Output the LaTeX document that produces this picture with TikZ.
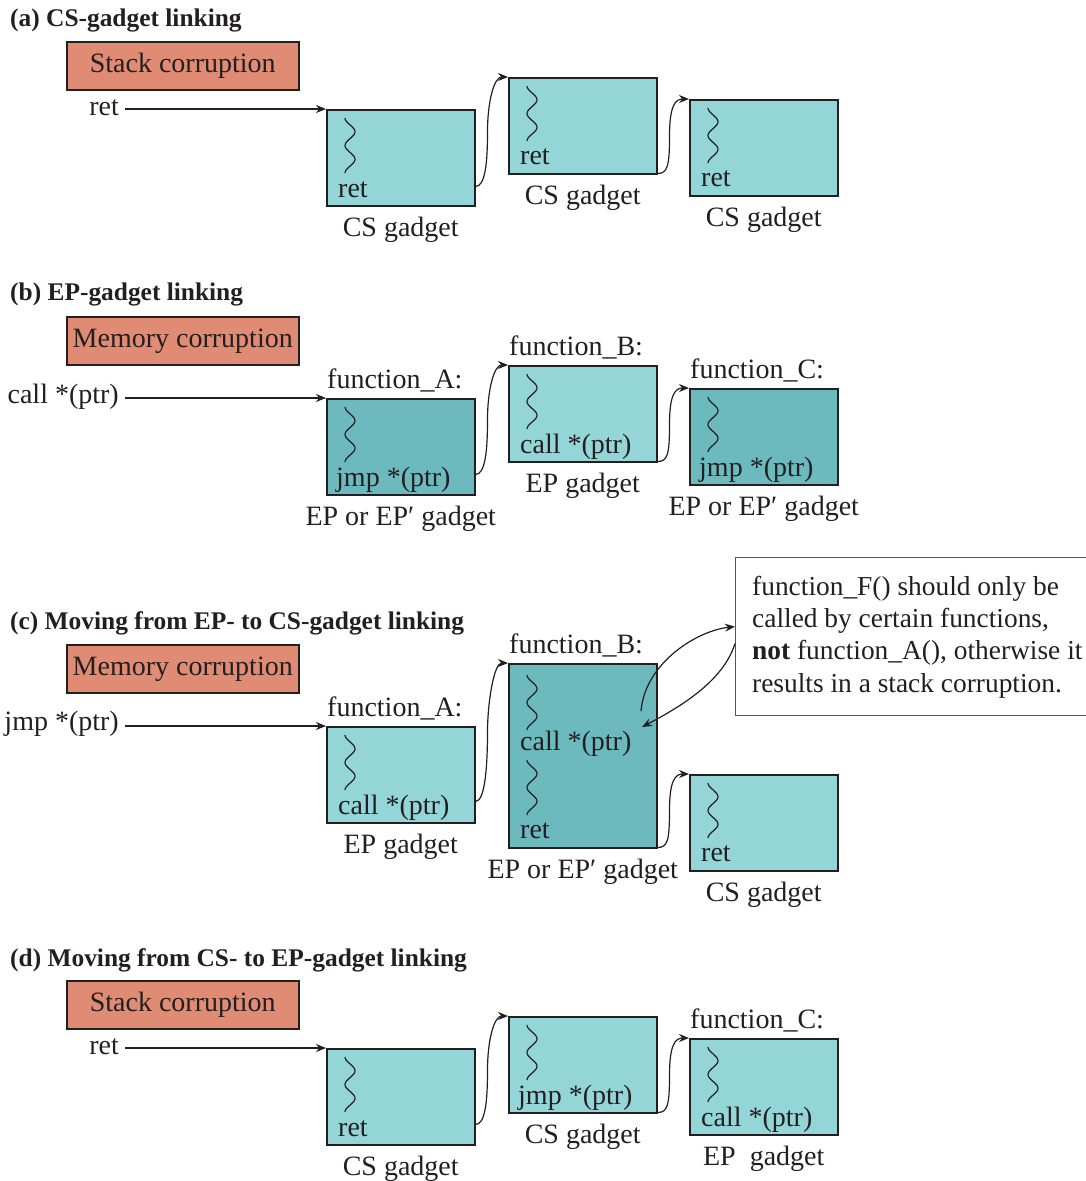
\documentclass[tikz,border=0pt]{standalone}
\usepackage{fontspec}
\setmainfont{Liberation Serif}
\usetikzlibrary{arrows.meta,calc}

\definecolor{salmon}{HTML}{E08C74}
\definecolor{lightteal}{HTML}{94D5D8}
\definecolor{darkteal}{HTML}{6CB9BE}
\definecolor{ink}{HTML}{231F20}
\definecolor{notegray}{HTML}{555555}

% wavy "code" line inside a gadget box: node name, x offset, y offset from top-left
% (two full periods over 55pt: 720/55 = 13.0909 degrees per pt)
\newcommand\wavy[3]{%
  \draw[wave, shift={(#1.north west)}, xshift=#2pt, yshift=-#3pt]
    plot[domain=0:55, samples=45, smooth] ({-5*cos(\x*13.0909)}, \x);}

% link from the end of one gadget to the entry of the next
\newcommand\hop[2]{%
  \draw[link] let \p1=(#1), \p2=(#2), \p3=($(#1)!0.5!(#2)$) in
    (\p1) .. controls +(10,0) and +(0,30) .. (\x1+12pt,\y3)
          .. controls +(0,-30) and +(-14,0) .. (\p2);}

% entry arrow from an instruction label to the first gadget
\newcommand\entry[2]{%
  \draw[link] ([xshift=6pt]#1.east |- #2.north west) -- (#2.north west);}

\begin{document}
\begin{tikzpicture}[x=1pt,y=-1pt,
  every node/.style={font=\fontsize{28}{32}\selectfont, text=ink},
  gbox/.style={draw=ink, line width=1.5pt, inner sep=0pt, anchor=north west,
              minimum width=148pt, minimum height=96pt},
  lightbox/.style={gbox, fill=lightteal},
  darkbox/.style={gbox, fill=darkteal},
  corrupt/.style={draw=ink, line width=1.5pt, fill=salmon, inner sep=0pt,
                  anchor=north west, minimum width=232pt, minimum height=48pt},
  paneltitle/.style={anchor=base west, inner sep=0pt,
                font=\fontsize{25.4}{30}\selectfont\bfseries},
  txt/.style={anchor=base west, inner sep=0pt},
  undertext/.style={anchor=base, inner sep=0pt},
  entrytext/.style={anchor=base east, inner sep=0pt},
  link/.style={draw=ink, line width=1.2pt, -{Stealth[length=10pt,width=8pt]}},
  wave/.style={draw=ink, line width=1.2pt},
]
\useasboundingbox (0,0) rectangle (1086,1181);

% ---------------- (a) CS-gadget linking ----------------
\node[paneltitle] (ta) at (10,26) {(a) CS-gadget linking};
\node[corrupt] (ca) at (66,41) {Stack corruption};
\node[lightbox] (a1) at (326,109) {};
\node[lightbox] (a2) at (508,77) {};
\node[lightbox] (a3) at (689,99) {};
\node[entrytext] (ea) at (119,115) {ret};
\entry{ea}{a1}
\wavy{a1}{24}{9} \wavy{a2}{24}{9} \wavy{a3}{24}{9}
\node[txt] (a1t) at ([xshift=12pt,yshift=9pt]a1.south west) {ret};
\node[txt] (a2t) at ([xshift=12pt,yshift=10pt]a2.south west) {ret};
\node[txt] (a3t) at ([xshift=12pt,yshift=10pt]a3.south west) {ret};
\node[undertext] (a1c) at ([yshift=-30pt]a1.south) {CS gadget};
\node[undertext] (a2c) at ([yshift=-30pt]a2.south) {CS gadget};
\node[undertext] (a3c) at ([yshift=-30pt]a3.south) {CS gadget};
\hop{[yshift=20pt]a1.south east}{a2.north west}
\hop{[yshift=1pt]a2.south east}{a3.north west}

% ---------------- (b) EP-gadget linking ----------------
\node[paneltitle] (tb) at (10,300) {(b) EP-gadget linking};
\node[corrupt] (cb) at (66,316) {Memory corruption};
\node[darkbox] (b1) at (326,398) {};
\node[lightbox] (b2) at (508,365) {};
\node[darkbox] (b3) at (689,388) {};
\node[entrytext] (eb) at (119,403) {call *(ptr)};
\entry{eb}{b1}
\node[txt] (b1f) at ([xshift=1pt,yshift=10pt]b1.north west) {function\_A:};
\node[txt] (b2f) at ([xshift=1pt,yshift=10pt]b2.north west) {function\_B:};
\node[txt] (b3f) at ([xshift=1pt,yshift=10pt]b3.north west) {function\_C:};
\wavy{b1}{24}{9} \wavy{b2}{24}{9} \wavy{b3}{24}{9}
\node[txt] (b1t) at ([xshift=10pt,yshift=9pt]b1.south west) {jmp *(ptr)};
\node[txt] (b2t) at ([xshift=12pt,yshift=9pt]b2.south west) {call *(ptr)};
\node[txt] (b3t) at ([xshift=10pt,yshift=9pt]b3.south west) {jmp *(ptr)};
\node[undertext] (b1c) at ([yshift=-30pt]b1.south) {EP or EP′ gadget};
\node[undertext] (b2c) at ([yshift=-30pt]b2.south) {EP gadget};
\node[undertext] (b3c) at ([yshift=-30pt]b3.south) {EP or EP′ gadget};
\hop{[yshift=21pt]b1.south east}{b2.north west}
\hop{[yshift=1pt]b2.south east}{b3.north west}

% ---------------- (c) Moving from EP- to CS-gadget linking ----------------
\node[paneltitle] (tc) at (10,629) {(c) Moving from EP- to CS-gadget linking};
\node[corrupt] (cc) at (66,644) {Memory corruption};
\node[lightbox] (c1) at (326,726) {};
\node[darkbox, minimum height=184pt] (c2) at (508,663) {};
\node[lightbox] (c3) at (689,774) {};
\node[entrytext] (ec) at (119,730) {jmp *(ptr)};
\entry{ec}{c1}
\node[txt] (c1f) at ([xshift=1pt,yshift=10pt]c1.north west) {function\_A:};
\node[txt] (c2f) at ([xshift=1pt,yshift=10pt]c2.north west) {function\_B:};
\wavy{c1}{24}{9} \wavy{c2}{24}{12} \wavy{c2}{24}{97} \wavy{c3}{24}{9}
\node[txt] (c1t) at ([xshift=12pt,yshift=9pt]c1.south west) {call *(ptr)};
\node[txt] (c2t) at ([xshift=12pt,yshift=-87pt]c2.north west) {call *(ptr)};
\node[txt] (c2r) at ([xshift=12pt,yshift=10pt]c2.south west) {ret};
\node[txt] (c3t) at ([xshift=12pt,yshift=10pt]c3.south west) {ret};
\node[undertext] (c1c) at ([yshift=-30pt]c1.south) {EP gadget};
\node[undertext] (c2c) at ([yshift=-30pt]c2.south) {EP or EP′ gadget};
\node[undertext] (c3c) at ([yshift=-30pt]c3.south) {CS gadget};
\hop{[yshift=22pt]c1.south east}{c2.north west}
\hop{[yshift=1pt]c2.south east}{c3.north west}

% note on function_F and the call/return round trip
\node[draw=notegray, line width=1.2pt, fill=white, anchor=north west, inner sep=0pt,
      minimum width=365pt, minimum height=158pt] (note) at (735,557) {};
% (base of a multi-line node is the baseline of its last line)
\node[anchor=base west, align=left, inner sep=0pt,
      font=\fontsize{27.4}{32.3}\selectfont] (notetext) at (752,692)
  {function\_F() should only be\\
   called by certain functions,\\
   \textbf{not} function\_A(), otherwise it\\
   results in a stack corruption.};
\coordinate (f1) at (641,711);
\coordinate (f2) at (642,727);
\draw[link] (f1) .. controls +(4,-48) and +(-38,4) .. ([yshift=10pt]note.west);
\draw[link] ([yshift=-7pt]note.west) .. controls +(-12,38) and +(38,-20) .. (f2);

% ---------------- (d) Moving from CS- to EP-gadget linking ----------------
\node[paneltitle] (td) at (10,966) {(d) Moving from CS- to EP-gadget linking};
\node[corrupt] (cd) at (66,980) {Stack corruption};
\node[lightbox] (d1) at (326,1048) {};
\node[lightbox] (d2) at (508,1016) {};
\node[lightbox] (d3) at (689,1038) {};
\node[entrytext] (ed) at (119,1054) {ret};
\entry{ed}{d1}
\node[txt] (d3f) at ([xshift=1pt,yshift=10pt]d3.north west) {function\_C:};
\wavy{d1}{24}{9} \wavy{d2}{24}{9} \wavy{d3}{24}{9}
\node[txt] (d1t) at ([xshift=12pt,yshift=9pt]d1.south west) {ret};
\node[txt] (d2t) at ([xshift=10pt,yshift=9pt]d2.south west) {jmp *(ptr)};
\node[txt] (d3t) at ([xshift=12pt,yshift=9pt]d3.south west) {call *(ptr)};
\node[undertext] (d1c) at ([yshift=-30pt]d1.south) {CS gadget};
\node[undertext] (d2c) at ([yshift=-30pt]d2.south) {CS gadget};
\node[undertext] (d3c) at ([yshift=-30pt]d3.south) {EP\ \ gadget};
\hop{[yshift=21pt]d1.south east}{d2.north west}
\hop{[yshift=1pt]d2.south east}{d3.north west}

\end{tikzpicture}
\end{document}
